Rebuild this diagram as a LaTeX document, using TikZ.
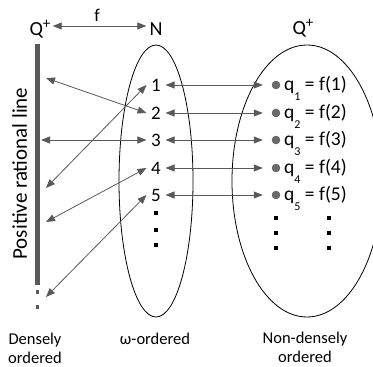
\documentclass[tikz,border=0pt]{standalone}
\usepackage{fontspec}
\setmainfont{Carlito}
\usetikzlibrary{arrows.meta}
\definecolor{ag}{HTML}{595959}
\begin{document}
\begin{tikzpicture}[x=1pt,y=-1pt,
  con/.style={ag, line width=0.8pt, {Triangle[length=9pt,width=7pt]}-{Triangle[length=9pt,width=7pt]}},
  num/.style={font=\fontsize{19}{19}\selectfont, text height=12pt, text depth=0pt, inner xsep=4.5pt, inner ysep=0pt},
  dotn/.style={circle, fill=ag!90, draw=ag, line width=0.4pt, minimum size=8pt, inner sep=0pt},
  ql/.style={anchor=base west, font=\fontsize{19.5}{19.5}\selectfont, inner sep=0pt},
  lbl/.style={font=\fontsize{16.5}{19}\selectfont, align=center, anchor=base},
  ttl/.style={font=\fontsize{20}{20}\selectfont, anchor=base, inner sep=2pt},
  vd/.style={fill=black, rectangle, minimum size=3.5pt, inner sep=0pt},
  ell/.style={line width=0.8pt}
]
\useasboundingbox (0,0) rectangle (373,367);
\clip (0,0) rectangle (373,367);
% titles
\node[ttl] (Q) at (40,35) {Q\raisebox{6.5pt}{\fontsize{15}{15}\selectfont +}};
\node[ttl, inner sep=3pt] (N) at (156,35) {N};
\node[ttl] (Q2) at (303,34) {Q\raisebox{6.5pt}{\fontsize{15}{15}\selectfont +}};
\coordinate (fy) at (0,26);
\draw[con] (Q.east |- fy) -- (N.west |- fy);
\node[font=\fontsize{18}{18}\selectfont, anchor=base, inner sep=0pt] (f) at (97,21) {f};
% bar
\fill[ag] (35,44) rectangle (40,285);
\node[vd, fill=ag] (bd1) at (37.5,292) {};
\node[vd, fill=ag] (bd2) at (37.5,307) {};
\node[rotate=90, anchor=base, font=\fontsize{21}{21}\selectfont, inner sep=0pt] (pl) at (27,173.5) {Positive rational line};
% ellipses
\draw[ell] (156,181) ellipse [x radius=37pt, y radius=136pt];
\draw[ell] (307,181) ellipse [x radius=75pt, y radius=136pt];
% rows
\foreach \i/\y in {1/85,2/113,3/140,4/168,5/195} {
  \node[num] (n\i) at (156,\y) {\i};
  \node[dotn] (d\i) at (276,\y) {};
  \node[ql] (q\i) at (284,\y+5) {q\raisebox{-10pt}{\fontsize{12}{12}\selectfont\i} = f(\i)};
  \draw[con] (n\i.east) -- ([xshift=-9pt]d\i.west);
}
% vertical dots
\foreach \y [count=\k] in {213,230,245} { \node[vd] (ld\k) at (156,\y) {}; }
\foreach \y [count=\k] in {218,233,248} { \node[vd] (rd\k) at (276,\y) {}; \node[vd] (rr\k) at (329,\y) {}; }
% left arrows
\coordinate (b1) at (46,78);
\coordinate (b2) at (46,188);
\coordinate (b3) at (41,140);
\coordinate (b4) at (46,222);
\coordinate (b5) at (46,297);
\draw[con] (b1) -- (n2.west);
\draw[con] (n1.west) -- (b2);
\draw[con] (b3) -- (n3.west);
\draw[con] (n4.west) -- (b4);
\draw[con] (n5.west) -- (b5);
% bottom labels
\node[lbl] (dl) at (35,363) {Densely\\ordered};
\node[lbl] (wl) at (155,344) {ω-ordered};
\node[lbl] (nl) at (305,362) {Non-densely\\ordered};
\end{tikzpicture}
\end{document}
